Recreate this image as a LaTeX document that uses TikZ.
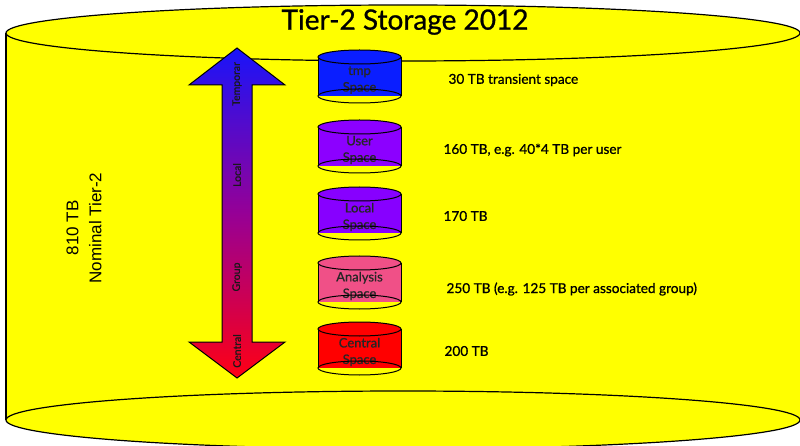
\documentclass[tikz,border=0pt]{standalone}
\usepackage{fontspec}
\setmainfont{Lato}[FakeBold=0.9]
\newfontfamily\arialfont{Liberation Sans}
\definecolor{tankyellow}{RGB}{255,255,0}
\definecolor{tmpblue}{RGB}{10,30,255}
\definecolor{uservio}{RGB}{140,0,255}
\definecolor{localvio}{RGB}{135,0,255}
\definecolor{anapink}{RGB}{240,80,135}
\definecolor{centred}{RGB}{255,0,0}
\definecolor{arrtop}{RGB}{25,20,250}
\definecolor{arrmid}{RGB}{150,0,150}
\definecolor{arrbot}{RGB}{255,0,20}
\tikzset{
  outline/.style={draw=black, line width=1.2pt},
  drumline/.style={draw=black, line width=1pt},
  drumtext/.style={align=center, text=black!85, font=\fontsize{13}{16.5}\selectfont},
  sizetext/.style={anchor=west, text=black, font=\fontsize{13.6}{15}\selectfont},
  arrowtext/.style={rotate=90, text=black!90, font=\fontsize{10.5}{12}\selectfont}
}
% a small storage drum: name, top edge y, fill colour, label
\newcommand\storagedrum[4]{%
  \fill[#3] (318,{#2+7}) rectangle (401,{#2+46});
  \draw[drumline] (318,{#2+7}) -- (318,{#2+46}) (401,{#2+7}) -- (401,{#2+46});
  \filldraw[drumline, fill=#3] (359.5,{#2+7}) ellipse [x radius=41.5, y radius=7];
  \node[drumtext] (#1) at (359.5,{#2+30}) {#4};
  \draw[drumline] (359.5,{#2+46}) ellipse [x radius=41.5, y radius=7];
}
\begin{document}
\begin{tikzpicture}[x=1pt, y=-1pt]
\useasboundingbox (0,0) rectangle (800,446);
\fill[white] (0,0) rectangle (800,446);

% the large tank
\fill[tankyellow] (6,33) rectangle (810,420);
\draw[outline] (6,33) -- (6,420);
\filldraw[outline, fill=tankyellow] (403,33) ellipse [x radius=397, y radius=28];
\filldraw[outline, fill=tankyellow] (403,420) ellipse [x radius=397, y radius=29];

\node[font=\fontsize{28}{32}\selectfont] (title) at (405,22) {Tier-2 Storage 2012};

\node[rotate=90, align=center, font=\arialfont\fontsize{17}{23}\selectfont] (total) at (84,228)
  {810 TB\\Nominal Tier-2};

% the two-headed arrow
\shadedraw[draw=black, line width=1pt, top color=arrtop, bottom color=arrbot, middle color=arrmid]
  (237,48) -- (285,85) -- (252,85) -- (252,342) -- (285,342) -- (237,378)
  -- (189,342) -- (222,342) -- (222,85) -- (189,85) -- cycle;
\node[arrowtext] (ltemp) at (237,84) {Temporar};
\node[arrowtext] (llocal) at (237,175) {Local};
\node[arrowtext] (lgroup) at (237,277) {Group};
\node[arrowtext] (lcentral) at (237,351) {Central};

% the storage areas
\storagedrum{tmp}{50}{tmpblue}{tmp\\Space}
\storagedrum{user}{120}{uservio}{User\\Space}
\storagedrum{local}{187}{localvio}{Local\\Space}
\storagedrum{analysis}{256}{anapink}{Analysis\\Space}
\storagedrum{central}{322}{centred}{Central\\Space}

\node[sizetext] (stmp) at (445,80) {30 TB transient space};
\node[sizetext] (suser) at (440,150) {160 TB, e.g. 40*4 TB per user};
\node[sizetext] (slocal) at (440,216) {170 TB};
\node[sizetext] (sanalysis) at (443,289) {250 TB (e.g. 125 TB per associated group)};
\node[sizetext] (scentral) at (441,351) {200 TB};
\end{tikzpicture}
\end{document}
